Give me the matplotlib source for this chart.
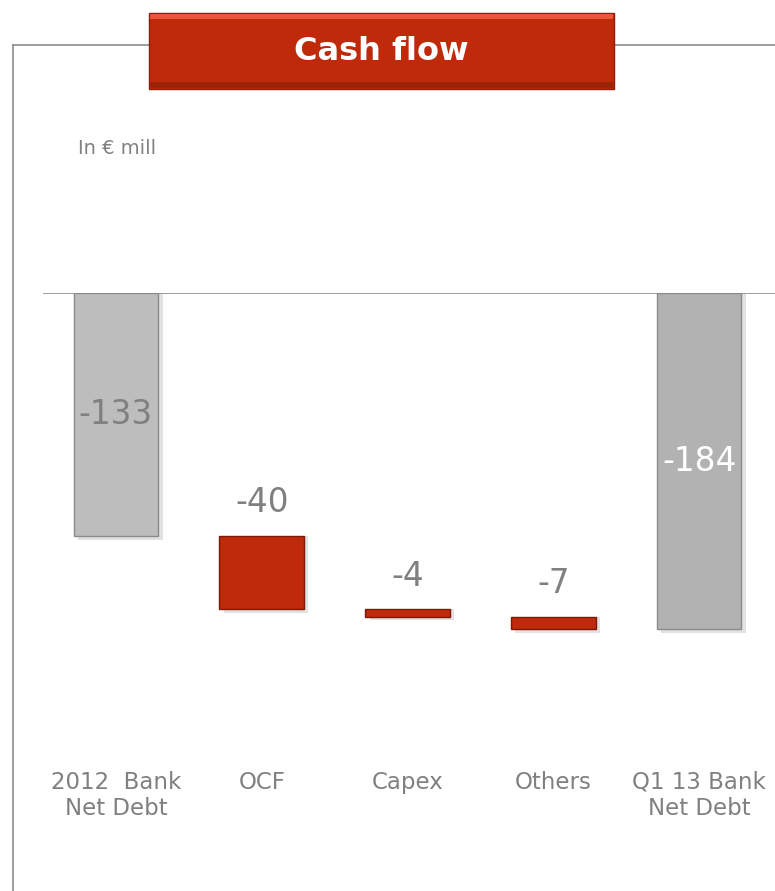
import matplotlib.pyplot as plt
from matplotlib.patches import Rectangle
from matplotlib.lines import Line2D

categories = ['2012  Bank\nNet Debt', 'OCF', 'Capex', 'Others', 'Q1 13 Bank\nNet Debt']
values = [-133, -40, -4, -7, -184]
kinds = ['total', 'delta', 'delta', 'delta', 'total']

RED = '#BF2A0B'
GREY = '#BDBDBD'
GREY2 = '#B2B2B2'
TXT = '#808080'

fig = plt.figure(figsize=(7.75, 8.91), dpi=100)
W, H = 775, 891

def fx(px):
    return px / W

def fy(py):
    return 1 - py / H

# outer frame lines and title box
fig.add_artist(Line2D([fx(13), fx(13)], [fy(45), 0], color='#8c8c8c', lw=1.2, zorder=1))
fig.add_artist(Line2D([fx(13), 1], [fy(45), fy(45)], color='#8c8c8c', lw=1.2, zorder=1))
fig.add_artist(Rectangle((fx(149), fy(89)), fx(614) - fx(149), fy(13) - fy(89),
                         facecolor=RED, edgecolor='#8a1e08', lw=1.0, zorder=5))
fig.add_artist(Rectangle((fx(150), fy(19)), fx(613) - fx(150), fy(14) - fy(19),
                         facecolor='#E8553A', edgecolor='none', zorder=6))
fig.add_artist(Rectangle((fx(150), fy(88)), fx(613) - fx(150), fy(82) - fy(88),
                         facecolor='#9c2208', edgecolor='none', zorder=6))
fig.text(fx(381), fy(51), 'Cash flow', color='white', fontsize=23, fontweight='bold',
         ha='center', va='center', zorder=7)
fig.text(fx(78), fy(149), 'In € mill', color=TXT, fontsize=14, ha='left', va='center')

ax = fig.add_axes([fx(43), fy(750), 1 - fx(43), fy(293) - fy(750)])
ax.set_xlim(-0.5, 4.52)
ax.set_ylim(-250, 0)
ax.axis('off')
ax.axhline(0, color='#8c8c8c', lw=1.2)

running = 0
for i, (v, k) in enumerate(zip(values, kinds)):
    if k == 'total':
        bottom = 0
        color = GREY if i == 0 else GREY2
        running = v
    else:
        bottom = running
        color = RED
        running += v
    ax.bar(i + 0.03, v - 2, bottom=bottom, width=0.58, color='#cfcfcf', alpha=0.6,
           edgecolor='none', zorder=1)
    ax.bar(i, v, bottom=bottom, width=0.58, color=color,
           edgecolor='#8a8a8a' if k == 'total' else '#7a1a06', lw=1.0, zorder=2)
    if k == 'total':
        tc = TXT if i == 0 else 'white'
        ax.text(i, bottom + v / 2, f'{v}', ha='center', va='center', color=tc,
                fontsize=23.5, zorder=3)
    else:
        ax.annotate(f'{v}', (i, bottom), xytext=(0, 12), textcoords='offset points',
                    ha='center', va='bottom', color=TXT, fontsize=23.5)

for i, c in enumerate(categories):
    ax.text(i, -0.045, c, transform=ax.get_xaxis_transform(), ha='center', va='top',
            color=TXT, fontsize=16.5, linespacing=1.2)

fig.savefig('out.png', dpi=100)
